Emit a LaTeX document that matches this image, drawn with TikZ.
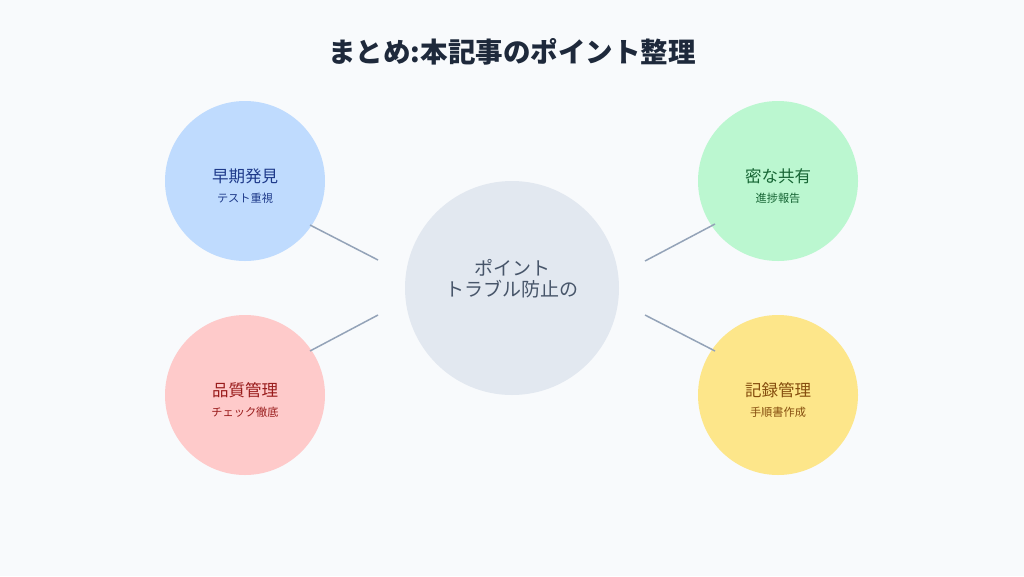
\documentclass[tikz,border=0pt]{standalone}
\usepackage{fontspec}
\setmainfont{Noto Sans CJK JP}
\definecolor{bg}{HTML}{F8FAFC}
\definecolor{titlec}{HTML}{1E293B}
\definecolor{linec}{HTML}{94A3B8}
\definecolor{centerc}{HTML}{E2E8F0}
\definecolor{centertx}{HTML}{475569}
\definecolor{bluef}{HTML}{BFDBFE}
\definecolor{bluet}{HTML}{1E3A8A}
\definecolor{redf}{HTML}{FECACA}
\definecolor{redt}{HTML}{991B1B}
\definecolor{greenf}{HTML}{BBF7D0}
\definecolor{greent}{HTML}{166534}
\definecolor{yellowf}{HTML}{FDE68A}
\definecolor{yellowt}{HTML}{854D0E}
\tikzset{
  bubble/.style={circle, minimum size=160pt, inner sep=0pt},
  mainlbl/.style={font=\fontsize{16.5}{18}\selectfont, inner sep=0pt},
  sublbl/.style={font=\fontsize{11.2}{13}\selectfont, inner sep=0pt},
  conn/.style={draw=linec, line width=1.5pt}
}
\begin{document}
\begin{tikzpicture}[x=1pt,y=-1pt]
\useasboundingbox (0,0) rectangle (1024,576);
\fill[bg] (0,0) rectangle (1024,576);
\node[font=\fontsize{27.5}{30}\selectfont\bfseries, text=titlec] (title) at (512,52) {まとめ:本記事のポイント整理};
% connectors endpoints
\coordinate (l1a) at (310,225); \coordinate (l1b) at (378,260);
\coordinate (l2a) at (310,351); \coordinate (l2b) at (378,315);
\coordinate (l3a) at (715,224); \coordinate (l3b) at (645,261);
\coordinate (l4a) at (715,351); \coordinate (l4b) at (645,315);
\node[bubble, fill=bluef] (tl) at (245,181) {};
\node[bubble, fill=redf] (bl) at (245,395) {};
\node[bubble, fill=greenf] (tr) at (778,181) {};
\node[bubble, fill=yellowf] (br) at (778,395) {};
\node[circle, minimum size=214pt, inner sep=0pt, fill=centerc] (c) at (512,288) {};
\draw[conn] (l1a) -- (l1b);
\draw[conn] (l2a) -- (l2b);
\draw[conn] (l3a) -- (l3b);
\draw[conn] (l4a) -- (l4b);
\node[font=\fontsize{19}{21}\selectfont, text=centertx, align=center] (ct) at (512,279) {ポイント\\トラブル防止の};
\node[mainlbl, text=bluet] (tlm) at (245,176) {早期発見};
\node[sublbl, text=bluet] (tls) at (245,198) {テスト重視};
\node[mainlbl, text=redt] (blm) at (245,390) {品質管理};
\node[sublbl, text=redt] (bls) at (245,412) {チェック徹底};
\node[mainlbl, text=greent] (trm) at (778,176) {密な共有};
\node[sublbl, text=greent] (trs) at (778,198) {進捗報告};
\node[mainlbl, text=yellowt] (brm) at (778,390) {記録管理};
\node[sublbl, text=yellowt] (brs) at (778,412) {手順書作成};
\end{tikzpicture}
\end{document}
